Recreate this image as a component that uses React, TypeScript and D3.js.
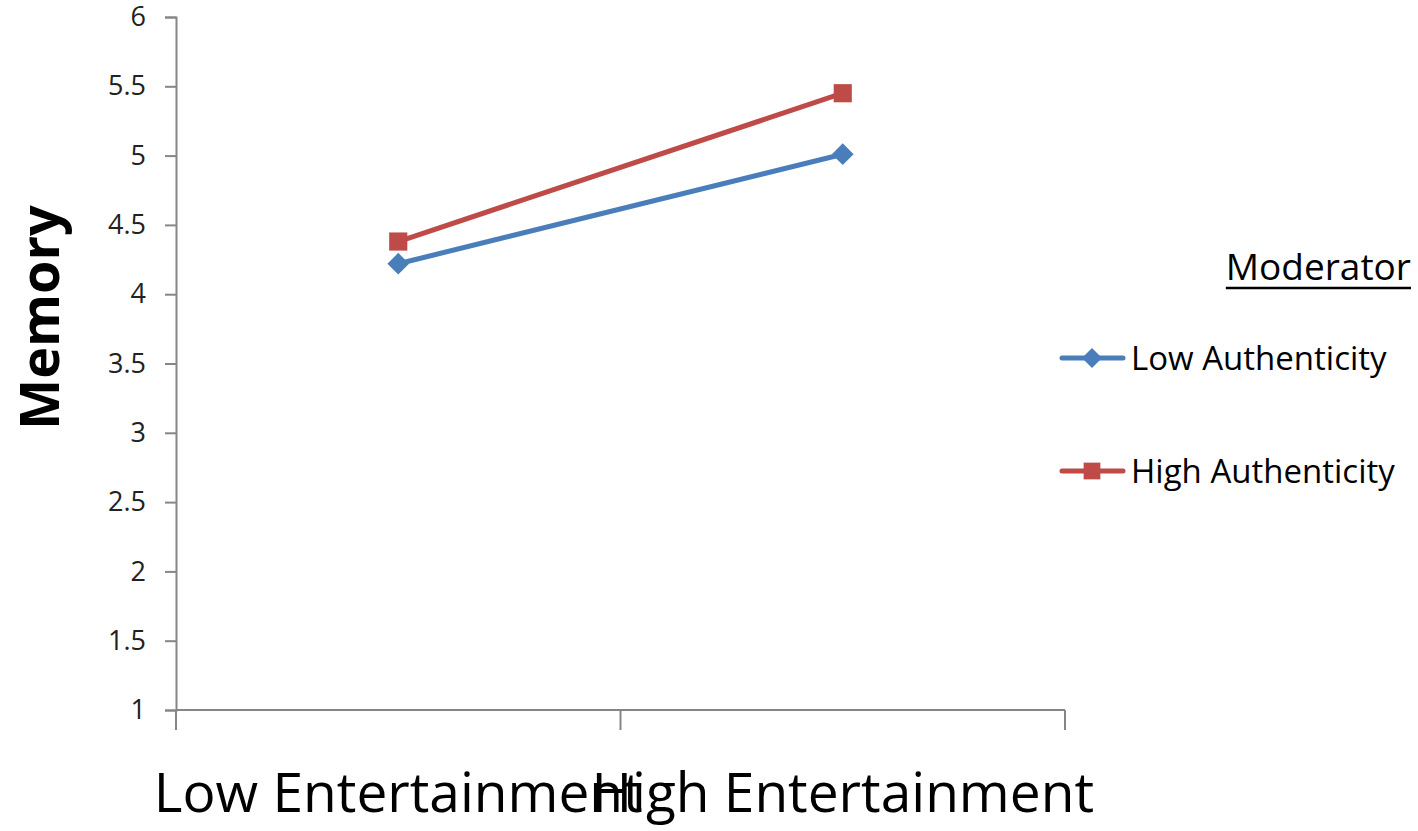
import React, { useEffect, useRef } from 'react';
import * as d3 from 'd3';

// interaction plot: memory by entertainment x authenticity

const categories = ['Low Entertainment', 'High Entertainment'];
const lowAuthenticity = [4.22, 5.01];
const highAuthenticity = [4.38, 5.45];
const yTicks = [1, 1.5, 2, 2.5, 3, 3.5, 4, 4.5, 5, 5.5, 6];
const seriesNames = ['Low Authenticity', 'High Authenticity'];

const width = 1418;
const height = 831;
const margin = { top: 17, right: 353, bottom: 121, left: 176 };
const font = '"Open Sans", sans-serif';

const App = () => {

  const chartRef = useRef(null);

  const series = [
    { name: seriesNames[0], values: lowAuthenticity, color: '#4a7ebb', symbol: d3.symbolDiamond2, size: 300 },
    { name: seriesNames[1], values: highAuthenticity, color: '#be4b48', symbol: d3.symbolSquare2, size: 420 },
  ];

  const xScale = d3.scaleBand()
                  .domain(categories)
                  .range([margin.left, width - margin.right]);

  const yScale = d3.scaleLinear()
                  .domain([1, 6])
                  .range([height - margin.bottom, margin.top]);

  useEffect(() => {
    const svg = d3.select(chartRef.current);
    svg.selectAll('*').remove();
    plotAxis(svg);
    plotChart(svg);
    plotLegend(svg);
  });

  const plotAxis = (svg) => {
    const axisColor = '#868686';

    const yAxis = d3.axisLeft(yScale).tickValues(yTicks).tickSize(11).tickPadding(19).tickFormat(d3.format('~g'));
    svg.append('g')
      .attr('transform', `translate(${margin.left}, 0)`)
      .call(yAxis)
      .call(g => g.selectAll('.domain').attr('stroke', axisColor).attr('stroke-width', 2))
      .call(g => g.selectAll('.tick line').attr('stroke', axisColor).attr('stroke-width', 2))
      .call(g => g.selectAll('.tick text')
        .attr('font-family', font)
        .attr('font-size', 27)
        .attr('fill', '#222'));

    // x axis line with boundary ticks
    const x0 = xScale.range()[0];
    const x1 = xScale.range()[1];
    const yBase = yScale(1);
    const boundaries = [x0, ...categories.slice(1).map(c => xScale(c)), x1];
    const gx = svg.append('g');
    gx.append('line')
      .attr('x1', x0).attr('x2', x1)
      .attr('y1', yBase).attr('y2', yBase)
      .attr('stroke', axisColor).attr('stroke-width', 2);
    gx.selectAll('line.tick')
      .data(boundaries)
      .join('line')
      .attr('class', 'tick')
      .attr('x1', d => d).attr('x2', d => d)
      .attr('y1', yBase).attr('y2', yBase + 20)
      .attr('stroke', axisColor).attr('stroke-width', 2);
    gx.selectAll('text')
      .data(categories)
      .join('text')
      .attr('x', d => xScale(d) + xScale.bandwidth() / 2)
      .attr('y', yBase + 102)
      .attr('text-anchor', 'middle')
      .attr('font-family', font)
      .attr('font-size', 55)
      .attr('fill', '#000')
      .text(d => d);

    svg.append('text')
      .attr('transform', `translate(59, ${(yScale(1) + yScale(6)) / 2 - 46}) rotate(-90)`)
      .attr('text-anchor', 'middle')
      .attr('font-family', font)
      .attr('font-weight', 'bold')
      .attr('font-size', 54)
      .text('Memory');
  };

  const plotChart = (svg) => {
    const cx = d => xScale(d) + xScale.bandwidth() / 2;
    const line = d3.line()
                  .x((d, i) => cx(categories[i]))
                  .y(d => yScale(d));

    const g = svg.append('g')
      .selectAll('g')
      .data(series)
      .join('g');

    g.append('path')
      .attr('d', d => line(d.values))
      .attr('fill', 'none')
      .attr('stroke', d => d.color)
      .attr('stroke-width', 5)
      .attr('stroke-linecap', 'round');

    g.selectAll('path.marker')
      .data(d => d.values.map((v, i) => ({ v, i, s: d })))
      .join('path')
      .attr('class', 'marker')
      .attr('transform', d => `translate(${cx(categories[d.i])}, ${yScale(d.v)})`)
      .attr('d', d => d3.symbol(d.s.symbol, d.s.size)())
      .attr('fill', d => d.s.color);
  };

  const plotLegend = (svg) => {
    const lg = svg.append('g');
    const title = lg.append('text')
      .attr('x', 1411)
      .attr('y', 280)
      .attr('text-anchor', 'end')
      .attr('font-family', font)
      .attr('font-size', 37)
      .text('Moderator');
    const bb = title.node().getBBox();
    lg.append('line')
      .attr('x1', bb.x).attr('x2', bb.x + bb.width)
      .attr('y1', 288).attr('y2', 288)
      .attr('stroke', '#000').attr('stroke-width', 2.5);

    const item = lg.selectAll('g')
      .data(series)
      .join('g')
      .attr('transform', (d, i) => `translate(1060, ${358 + i * 113})`);
    item.append('line')
      .attr('x1', 2).attr('x2', 63)
      .attr('stroke', d => d.color)
      .attr('stroke-width', 5)
      .attr('stroke-linecap', 'round');
    item.append('path')
      .attr('transform', 'translate(32, 0)')
      .attr('d', d => d3.symbol(d.symbol, d.size * 0.85)())
      .attr('fill', d => d.color);
    item.append('text')
      .attr('x', 71)
      .attr('y', 12)
      .attr('font-family', font)
      .attr('font-size', 33)
      .text(d => d.name);
  };

  return (
    <svg
      viewBox={`0 0 ${width} ${height}`}
      width={width}
      height={height}
      ref={chartRef}
      style={{ position: 'absolute', left: 0, top: 0, background: '#fff' }}
    />
  );
};

export default App;
